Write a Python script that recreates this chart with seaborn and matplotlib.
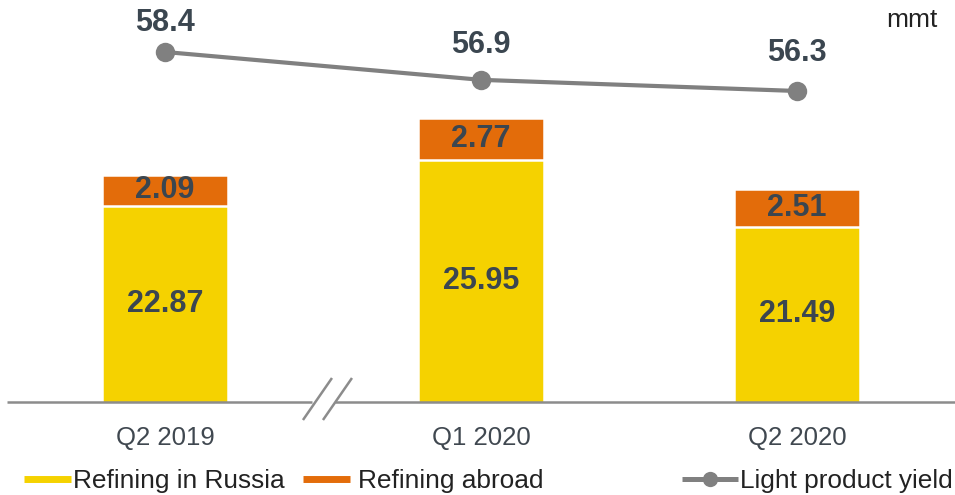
import numpy as np
import pandas as pd
import matplotlib
matplotlib.use("Agg")
import matplotlib.pyplot as plt
from matplotlib.lines import Line2D
import seaborn as sns

# --- data -----------------------------------------------------------------
quarters = ["Q2 2019", "Q1 2020", "Q2 2020"]
refining_russia = [22.87, 25.95, 21.49]
refining_abroad = [2.09, 2.77, 2.51]
light_yield = [58.4, 56.9, 56.3]
unit_label = "mmt"
legend_labels = ["Refining in Russia", "Refining abroad", "Light product yield"]

# --- style ----------------------------------------------------------------
YELLOW = "#F5D200"
ORANGE = "#E36C0A"
GREY = "#808080"
AXIS_GREY = "#8C8C8C"
VALUE_TXT = "#3B4650"
TICK_TXT = "#404850"
LEGEND_TXT = "#222222"

sns.set_theme(style="white")
plt.rcParams["font.family"] = ["Liberation Sans", "DejaVu Sans"]

W, H = 955, 495
fig = plt.figure(figsize=(W / 100, H / 100), dpi=100)
ax = fig.add_axes([7 / W, (H - 402) / H, 948 / W, 402 / H])

df = pd.DataFrame({
    "quarter": quarters,
    "russia": refining_russia,
    "abroad": refining_abroad,
})
df["total"] = df["russia"] + df["abroad"]

bar_kw = dict(width=0.4, saturation=1, edgecolor="white", linewidth=1.8)
sns.barplot(data=df, x="quarter", y="total", color=ORANGE, ax=ax, **bar_kw)
sns.barplot(data=df, x="quarter", y="russia", color=YELLOW, ax=ax, **bar_kw)

y0 = 9.8
ax.set_ylim(y0, y0 + 402 / 15)
ax.set_xlim(-0.5, 2.5)

# value labels inside the stacked segments
for i, (r, a) in enumerate(zip(refining_russia, refining_abroad)):
    ax.text(i, (y0 + r) / 2, f"{r:.2f}", ha="center", va="center",
            fontsize=22, fontweight="bold", color=VALUE_TXT)
    ax.text(i, r + a / 2, f"{a:.2f}", ha="center", va="center",
            fontsize=22, fontweight="bold", color=VALUE_TXT)

for s in ax.spines.values():
    s.set_visible(False)
ax.set_yticks([])
ax.set_xlabel("")
ax.set_ylabel("")
ax.tick_params(axis="x", length=0, pad=17, labelsize=18.5, labelcolor=TICK_TXT)

# baseline with a break between the first two periods
base_kw = dict(color=AXIS_GREY, lw=1.8, transform=ax.transAxes, clip_on=False,
               solid_capstyle="butt")
ax.plot([0, 0.3217], [0, 0], **base_kw)
ax.plot([0.346, 1], [0, 0], **base_kw)
ax.plot([0.3122, 0.3428], [-0.0448, 0.0597], **base_kw)
ax.plot([0.3333, 0.3639], [-0.0448, 0.0597], **base_kw)

# light product yield on its own scale
ax2 = ax.twinx()
sns.lineplot(x=np.arange(len(quarters)), y=light_yield, ax=ax2, color=GREY,
             linewidth=3, marker="o", markersize=14, markeredgewidth=0)
ax2.set_ylim(39.55, 61.2)
ax2.set_xlim(-0.5, 2.5)
ax2.set_yticks([])
ax2.set_ylabel("")
for s in ax2.spines.values():
    s.set_visible(False)
label_lift = [21, 25, 27.5]  # points above each marker
for i, (v, lift) in enumerate(zip(light_yield, label_lift)):
    ax2.annotate(f"{v:.1f}", (i, v), xytext=(0, lift), textcoords="offset points",
                 ha="center", va="center", fontsize=22, fontweight="bold",
                 color=VALUE_TXT)

fig.text(938 / W, (H - 27) / H, unit_label, ha="right", va="baseline",
         fontsize=19, color=LEGEND_TXT)

# legend entries laid out along the bottom
handles = [
    Line2D([], [], color=YELLOW, lw=5, solid_capstyle="butt"),
    Line2D([], [], color=ORANGE, lw=5, solid_capstyle="butt"),
    Line2D([], [], color=GREY, lw=3.6, marker="o", markersize=11,
           markeredgewidth=0, solid_capstyle="butt"),
]
lefts = [24, 303, 682]
hlens = [1.79, 1.79, 2.13]
pads = [0.06, 0.3, 0.07]
for h, lab, x, hl, pd_ in zip(handles, legend_labels, lefts, hlens, pads):
    fig.legend([h], [lab], loc="center left",
               bbox_to_anchor=(x / W, (H - 481) / H),
               frameon=False, fontsize=18.9, borderpad=0, borderaxespad=0,
               handlelength=hl, handletextpad=pd_, labelcolor=LEGEND_TXT)

fig.savefig("out.png", dpi=100)
